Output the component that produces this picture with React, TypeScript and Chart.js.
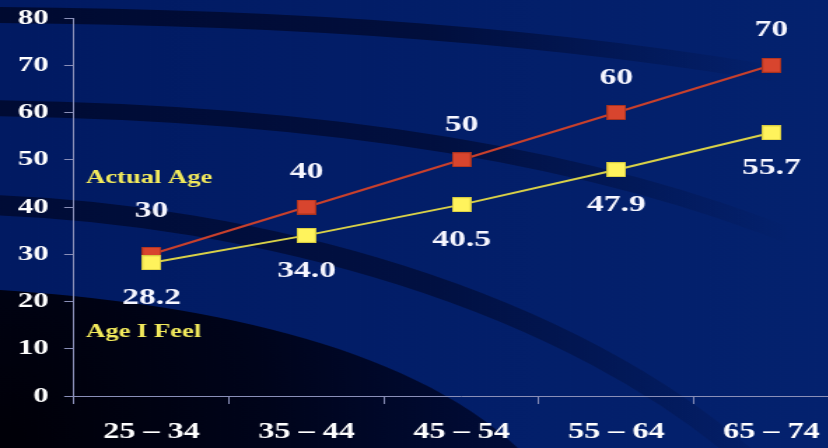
import React, { useEffect, useRef } from "react";
import { Chart, registerables } from "chart.js";

Chart.register(...registerables);

// ---- data ----
const categories = ["25 – 34", "35 – 44", "45 – 54", "55 – 64", "65 – 74"];
const actualAge = [30, 40, 50, 60, 70];
const ageIFeel = [28.2, 34.0, 40.5, 47.9, 55.7];
const seriesNames = ["Actual Age", "Age I Feel"];
const yMin = 0;
const yMax = 80;
const yStep = 10;

// ---- style ----
const S = 1.4; // horizontal stretch of the whole picture
const W = 620;
const H = 448;
const FONT = "'Liberation Serif', 'Times New Roman', serif";
const AXIS = "#8a8fb8";
const RED_LINE = "#c8402c";
const YEL_LINE = "#d8d048";

function makeMarker(fill: string, stroke: string) {
  const c = document.createElement("canvas");
  c.width = 14;
  c.height = 15;
  const g = c.getContext("2d")!;
  g.fillStyle = fill;
  g.fillRect(0, 0, 14, 15);
  g.strokeStyle = stroke;
  g.lineWidth = 1;
  g.strokeRect(0.5, 0.5, 13, 14);
  return c;
}

const bgPlugin = {
  id: "bg",
  beforeDraw(chart: any) {
    const ctx: CanvasRenderingContext2D = chart.ctx;
    const Wd = W * S;
    ctx.save();
    ctx.scale(1 / S, 1);
    const g = ctx.createLinearGradient(0, 0, Wd, 0);
    g.addColorStop(0, "#011a62");
    g.addColorStop(1, "#04226f");
    ctx.fillStyle = g;
    ctx.fillRect(0, 0, Wd, H);

    const band = (pts: number[], width: number, fadeEnd: number, alpha: number) => {
      const sg = ctx.createLinearGradient(0, 0, fadeEnd, 0);
      sg.addColorStop(0, `rgba(0,6,36,${alpha})`);
      sg.addColorStop(0.55, `rgba(0,6,36,${alpha * 0.8})`);
      sg.addColorStop(1, "rgba(0,6,36,0)");
      ctx.strokeStyle = sg;
      ctx.lineWidth = width;
      ctx.lineCap = "butt";
      ctx.beginPath();
      ctx.moveTo(pts[0], pts[1]);
      ctx.bezierCurveTo(pts[2], pts[3], pts[4], pts[5], pts[6], pts[7]);
      ctx.stroke();
    };
    band([-10, 15, 300, 17, 560, 36, 800, 78], 16, 780, 0.8);
    band([-10, 108, 300, 112, 580, 150, 800, 240], 16, 790, 0.75);
    band([-10, 205, 250, 214, 570, 295, 760, 470], 20, 800, 0.7);

    // dark bottom-left region
    const rg = ctx.createRadialGradient(0, 448, 20, 0, 448, 520);
    rg.addColorStop(0, "rgba(0,0,8,1)");
    rg.addColorStop(0.5, "rgba(0,2,20,0.92)");
    rg.addColorStop(1, "rgba(0,6,40,0.75)");
    ctx.fillStyle = rg;
    ctx.beginPath();
    ctx.moveTo(0, 290);
    ctx.bezierCurveTo(200, 303, 420, 345, 530, 460);
    ctx.lineTo(0, 460);
    ctx.closePath();
    ctx.fill();
    ctx.restore();
  },
};

const labelPlugin = {
  id: "valueLabels",
  afterDatasetsDraw(chart: any) {
    const ctx: CanvasRenderingContext2D = chart.ctx;
    const m0 = chart.getDatasetMeta(0);
    const m1 = chart.getDatasetMeta(1);
    ctx.save();
    ctx.font = `bold 24px ${FONT}`;
    ctx.fillStyle = "#f6f6ff";
    ctx.textAlign = "center";
    ctx.textBaseline = "middle";
    m0.data.forEach((pt: any, i: number) => {
      ctx.fillText(actualAge[i].toFixed(0), pt.x, pt.y - (i === 0 ? 43 : 35));
    });
    m1.data.forEach((pt: any, i: number) => {
      ctx.fillText(ageIFeel[i].toFixed(1), pt.x, pt.y + 35);
    });
    ctx.font = `bold 19px ${FONT}`;
    ctx.fillStyle = "#f2ea5c";
    ctx.textAlign = "left";
    ctx.fillText(seriesNames[0], 86 / S, 178);
    ctx.fillText(seriesNames[1], 86 / S, 332);
    ctx.restore();
  },
};

export default function App() {
  const ref = useRef<HTMLCanvasElement | null>(null);

  useEffect(() => {
    const canvas = ref.current!;
    const redMarker = makeMarker("#d8452e", "#a8321f");
    const yellowMarker = makeMarker("#fff35c", "#d8cc40");
    const chart = new Chart(canvas, {
      type: "line",
      data: {
        labels: categories,
        datasets: [
          {
            label: seriesNames[0],
            data: actualAge,
            borderColor: RED_LINE,
            backgroundColor: RED_LINE,
            borderWidth: 2,
            pointStyle: redMarker as any,
            pointRadius: 7,
            tension: 0,
            order: 1,
          },
          {
            label: seriesNames[1],
            data: ageIFeel,
            borderColor: YEL_LINE,
            backgroundColor: YEL_LINE,
            borderWidth: 2,
            pointStyle: yellowMarker as any,
            pointRadius: 7,
            tension: 0,
            order: 0,
          },
        ],
      },
      options: {
        responsive: false,
        animation: false,
        devicePixelRatio: 1,
        layout: { padding: { left: 0, right: W - 849 / S, top: 18, bottom: 0 } },
        plugins: { legend: { display: false }, tooltip: { enabled: false } },
        scales: {
          x: {
            type: "category",
            offset: true,
            grid: {
              offset: true,
              drawOnChartArea: false,
              drawTicks: true,
              tickLength: 8,
              color: AXIS,
              lineWidth: 1,
            },
            border: { color: AXIS, width: 1 },
            ticks: {
              color: "#ffffff",
              font: { family: FONT, size: 23, weight: "bold" },
              padding: 14,
              maxRotation: 0,
              autoSkip: false,
            },
            afterFit: (s: any) => {
              s.height = 52;
            },
          },
          y: {
            min: yMin,
            max: yMax,
            ticks: {
              stepSize: yStep,
              color: "#ffffff",
              font: { family: FONT, size: 22, weight: "bold", lineHeight: 0.5 },
              padding: 11,
            },
            grid: { drawOnChartArea: false, tickLength: 7, color: AXIS, lineWidth: 1 },
            border: { color: AXIS, width: 1 },
            afterFit: (s: any) => {
              s.width = 74 / S;
            },
          },
        },
      } as any,
      plugins: [bgPlugin, labelPlugin],
    });
    return () => chart.destroy();
  }, []);

  return (
    <div
      style={{
        position: "fixed",
        left: 0,
        top: 0,
        width: 828,
        height: 448,
        overflow: "hidden",
        background: "#011a62",
      }}
    >
      <canvas
        ref={ref}
        width={W}
        height={H}
        style={{
          display: "block",
          width: W,
          height: H,
          transform: `scaleX(${S})`,
          transformOrigin: "0 0",
        }}
      />
    </div>
  );
}
